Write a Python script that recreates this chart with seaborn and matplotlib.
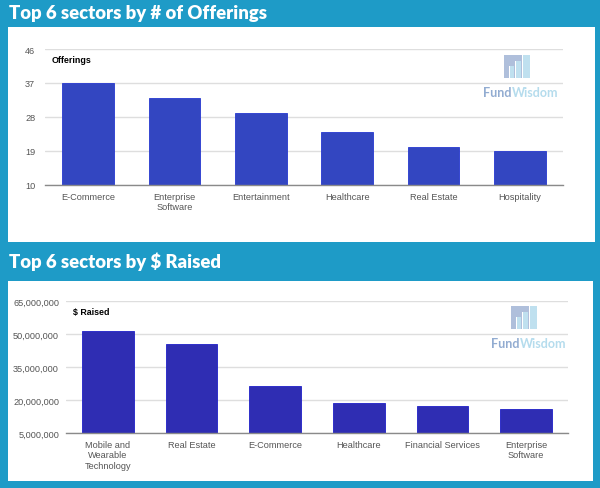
import matplotlib
matplotlib.use("Agg")
import matplotlib.pyplot as plt
import seaborn as sns
from matplotlib.patches import Rectangle
from matplotlib.ticker import FuncFormatter

# ---- data ----
off_categories = ["E-Commerce", "Enterprise\nSoftware", "Entertainment", "Healthcare", "Real Estate", "Hospitality"]
off_values = [37, 33, 29, 24, 20, 19]
off_ticks = [10, 19, 28, 37, 46]

raised_categories = ["Mobile and\nWearable\nTechnology", "Real Estate", "E-Commerce", "Healthcare",
                     "Financial Services", "Enterprise\nSoftware"]
raised_values = [51400000, 45600000, 26300000, 18800000, 17300000, 15900000]
raised_ticks = [5000000, 20000000, 35000000, 50000000, 65000000]

title1 = "Top 6 sectors by # of Offerings"
title2 = "Top 6 sectors by $ Raised"

sns.set_theme(style="white")
plt.rcParams["font.family"] = ["Liberation Sans", "DejaVu Sans"]

W, H = 600, 489
BG = "#1E9BC7"
fig = plt.figure(figsize=(W / 100, H / 100), dpi=100, facecolor=BG)


def fx(px):
    return px / W


def fy(py):
    return 1 - py / H


def frect(x0, y0, x1, y1, color, z=0):
    fig.patches.append(Rectangle((fx(x0), fy(y1)), fx(x1) - fx(x0), fy(y0) - fy(y1),
                                 transform=fig.transFigure, facecolor=color, edgecolor="none",
                                 zorder=z))


# white panels
frect(8, 28, 595, 243, "white", -5)
frect(8, 282, 593, 482, "white", -5)

# titles
fig.text(fx(9), fy(14), title1, color="white", fontsize=13.3, fontweight="heavy",
         family=["Lato", "DejaVu Sans"], va="center", ha="left")
fig.text(fx(9), fy(262), title2, color="white", fontsize=13.3, fontweight="heavy",
         family=["Lato", "DejaVu Sans"], va="center", ha="left")


def logo(ix, iy, tx, ty):
    # icon
    frect(ix, iy, ix + 18, iy + 23, "#AFBFDB", 6)
    frect(ix + 5, iy + 11, ix + 6, iy + 23, "white", 7)
    frect(ix + 6, iy + 11, ix + 10, iy + 23, "#BFE0EF", 7)
    frect(ix + 11, iy + 6, ix + 12, iy + 23, "white", 7)
    frect(ix + 12, iy + 6, ix + 17, iy + 23, "#BFE0EF", 7)
    frect(ix + 19, iy, ix + 26, iy + 23, "#BFE0EF", 7)
    t1 = fig.text(fx(tx), fy(ty), "Fund", color="#92ACD1", fontsize=9, fontweight="bold",
                  family=["Lato", "DejaVu Sans"], va="center", ha="left", zorder=8)
    fig.canvas.draw()
    bb = t1.get_window_extent()
    fig.text(bb.x1 / fig.dpi / fig.get_figwidth(), fy(ty), "Wisdom", color="#B5DCED", fontsize=9,
             fontweight="bold", family=["Lato", "DejaVu Sans"], va="center", ha="left", zorder=8)


def style_axes(ax, ticks, fmt, label, label_x, ypad):
    ax.set_zorder(2)
    ax.set_ylim(ticks[0], ticks[-1])
    ax.set_yticks(ticks)
    ax.yaxis.set_major_formatter(FuncFormatter(fmt))
    ax.grid(axis="y", color="#DEDEDE", linewidth=1)
    ax.set_axisbelow(True)
    for s in ["left", "right", "top"]:
        ax.spines[s].set_visible(False)
    ax.spines["bottom"].set_color("#8A8A8A")
    ax.spines["bottom"].set_linewidth(1)
    ax.tick_params(axis="y", length=0, pad=ypad, labelsize=6.6, labelcolor="#555555")
    ax.tick_params(axis="x", length=0, pad=5, labelsize=6.6, labelcolor="#555555")
    ax.set_xlabel("")
    ax.set_ylabel("")
    ax.set_facecolor("none")
    ax.patch.set_alpha(0)
    ax.text(label_x, 0.92, label, transform=ax.transAxes, fontsize=6.4, fontweight="bold",
            color="black", va="center", ha="left")


# ---- top chart ----
ax1 = fig.add_axes([fx(45), fy(185.7), fx(563) - fx(45), fy(50) - fy(185.7)])
sns.barplot(x=off_categories, y=off_values, color="#3346C1", width=0.6, saturation=1,
            edgecolor="#2638D0", linewidth=0.6, ax=ax1)
style_axes(ax1, off_ticks, lambda v, p: f"{int(v)}", "Offerings", 0.013, 7)
logo(504, 56, 483, 93)

# ---- bottom chart ----
ax2 = fig.add_axes([fx(66), fy(434), fx(568) - fx(66), fy(302.3) - fy(434)])
sns.barplot(x=raised_categories, y=raised_values, color="#2F2DB3", width=0.62, saturation=1,
            edgecolor="#1F1FC8", linewidth=0.6, ax=ax2)
style_axes(ax2, raised_ticks, lambda v, p: f"{int(v):,}", "$ Raised", 0.013, 5)
logo(511, 307, 491, 344)

fig.savefig("out.png", dpi=100, facecolor=BG)
